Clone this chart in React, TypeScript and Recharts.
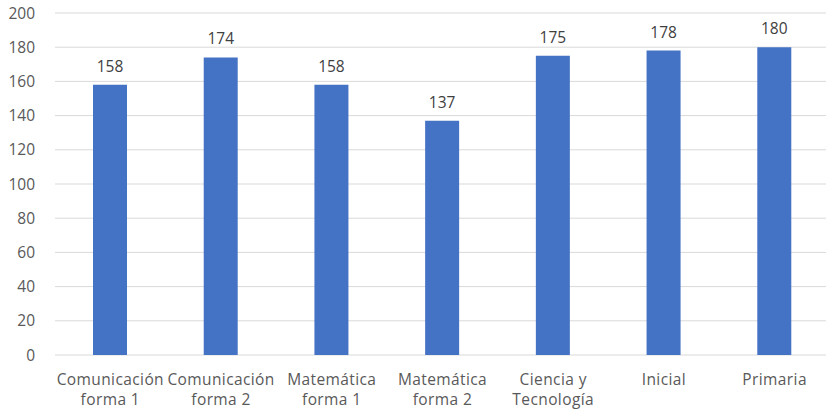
import { BarChart, Bar, XAxis, YAxis, CartesianGrid, LabelList } from "recharts";

const categories = [
  "Comunicación forma 1",
  "Comunicación forma 2",
  "Matemática forma 1",
  "Matemática forma 2",
  "Ciencia y Tecnología",
  "Inicial",
  "Primaria",
];
const tickLines: string[][] = [
  ["Comunicación", "forma 1"],
  ["Comunicación", "forma 2"],
  ["Matemática", "forma 1"],
  ["Matemática", "forma 2"],
  ["Ciencia y", "Tecnología"],
  ["Inicial"],
  ["Primaria"],
];
const values = [158, 174, 158, 137, 175, 178, 180];
const yTicks = [0, 20, 40, 60, 80, 100, 120, 140, 160, 180, 200];
const boundaryTicks = [0, 1, 2, 3, 4, 5, 6, 7];

const chartData = categories.map((name, i) => ({ name, value: values[i], pos: i + 0.5 }));

const FONT = "'Open Sans', 'Liberation Sans', sans-serif";
const TEXT = "#595959";

function CategoryTick(props: any) {
  const { x, y, payload } = props;
  const lines = tickLines[payload.index] ?? [payload.value];
  return (
    <text
      x={x}
      y={y + 22}
      textAnchor="middle"
      fill={TEXT}
      fontSize={15.5}
      fontFamily={FONT}
      letterSpacing={0.4}
    >
      {lines.map((line, i) => (
        <tspan key={i} x={x} dy={i === 0 ? 0 : 20}>
          {line}
        </tspan>
      ))}
    </text>
  );
}

export default function App() {
  return (
    <div style={{ position: "absolute", left: 0, top: 0, width: 826, height: 420, background: "#fff", overflow: "hidden" }}>
      <BarChart
        width={826}
        height={420}
        data={chartData}
        margin={{ top: 13, right: -4, left: 0, bottom: 0 }}
        barSize={34}
      >
        <CartesianGrid vertical={false} stroke="#d9d9d9" />
        <XAxis
          xAxisId="cat"
          dataKey="name"
          height={65}
          axisLine={false}
          tickLine={false}
          interval={0}
          tick={<CategoryTick />}
        />
        {/* boundary ticks between categories */}
        <XAxis
          xAxisId="edge"
          type="number"
          dataKey="pos"
          domain={[0, 7]}
          ticks={boundaryTicks}
          interval={0}
          tick={() => <g />}
          tickSize={6}
          height={0}
          axisLine={{ stroke: "#d9d9d9" }}
          tickLine={{ stroke: "#d9d9d9" }}
        />
        <YAxis
          width={55}
          domain={[0, 200]}
          ticks={yTicks}
          axisLine={false}
          tickLine={false}
          tickMargin={14}
          tick={{ fill: TEXT, fontSize: 15.5, fontFamily: FONT }}
        />
        <Bar xAxisId="cat" dataKey="value" fill="#4472c4" isAnimationActive={false}>
          <LabelList
            dataKey="value"
            position="top"
            offset={13}
            fill="#404040"
            fontSize={15.5}
            fontFamily={FONT}
          />
        </Bar>
      </BarChart>
    </div>
  );
}
